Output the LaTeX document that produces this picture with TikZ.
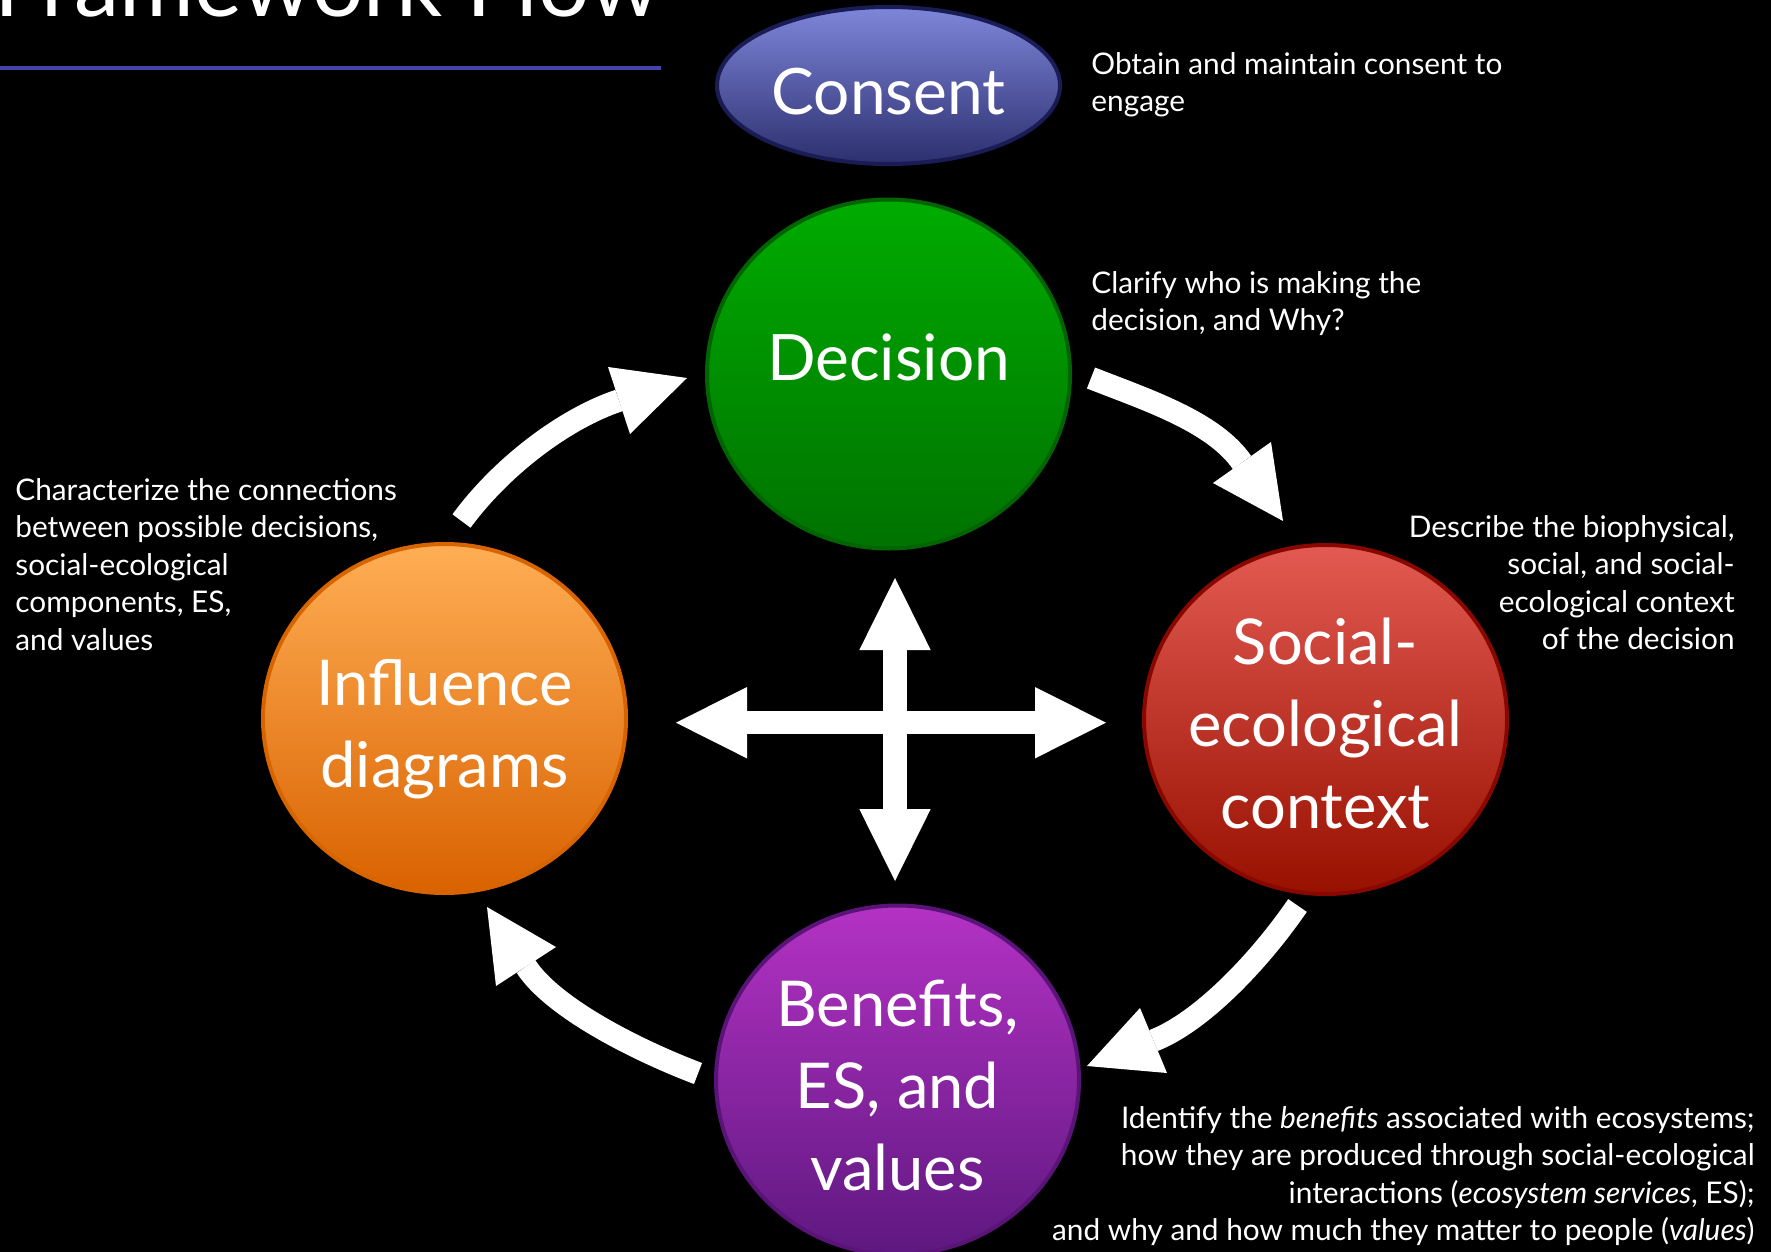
\documentclass[tikz,border=0pt]{standalone}
\usepackage{fontspec}
\setmainfont{Lato}
\usetikzlibrary{shapes.geometric}
\definecolor{titleline}{HTML}{4444AA}
\definecolor{conTop}{HTML}{7E86DA}
\definecolor{conBot}{HTML}{2C2F6E}
\definecolor{conLine}{HTML}{1A1D55}
\definecolor{decTop}{HTML}{00AC00}
\definecolor{decBot}{HTML}{007200}
\definecolor{decLine}{HTML}{006400}
\definecolor{socTop}{HTML}{E35A52}
\definecolor{socBot}{HTML}{981000}
\definecolor{socLine}{HTML}{880800}
\definecolor{benTop}{HTML}{B432C4}
\definecolor{benBot}{HTML}{5E1880}
\definecolor{benLine}{HTML}{5A1478}
\definecolor{infTop}{HTML}{FFAE55}
\definecolor{infBot}{HTML}{D96200}
\definecolor{infLine}{HTML}{D86400}
\begin{document}
\begin{tikzpicture}[x=0.5pt, y=-0.5pt,
  circ/.style={ellipse, minimum width=181.5pt, minimum height=174.5pt, inner sep=0pt, line width=2pt},
  lab/.style={text=white, font=\fontsize{31.6}{41}\selectfont, align=center, inner sep=0pt},
  desc/.style={text=white, font=\fontsize{14.9}{18.75}\selectfont, inner sep=0pt},
  shaft/.style={draw=white, line width=11.25pt},
  head/.style={fill=white}
]
\useasboundingbox (0,0) rectangle (1771,1252);
\fill[black] (0,0) rectangle (1771,1252);
\clip (0,0) rectangle (1771,1252);

% title
\node[anchor=base west, inner sep=0pt, text=white, font=\fontsize{45.4}{50}\selectfont] (title) at (-6,17) {Framework Flow};
\draw[titleline, line width=2pt] (0,68) -- (661,68);

% consent
\node[ellipse, minimum width=171.5pt, minimum height=78.5pt, inner sep=0pt, line width=2pt,
      top color=conTop, bottom color=conBot, draw=conLine] (con) at (888.5,85.5) {};
\node[lab, font=\fontsize{32}{41}\selectfont] (conT) at (888.5,91.5) {Consent};

% circles
\node[circ, top color=decTop, bottom color=decBot, draw=decLine] (dec) at (888.5,374) {};
\node[lab, font=\fontsize{32}{41}\selectfont] (decT) at (888.5,357) {Decision};
\node[circ, top color=socTop, bottom color=socBot, draw=socLine] (soc) at (1325.5,719.5) {};
\node[lab] (socT) at (1325.5,723.5) {Social-\\ecological\\context};
\node[circ, top color=benTop, bottom color=benBot, draw=benLine] (ben) at (897.5,1080) {};
\node[lab] (benT) at (897.5,1085) {Benefits,\\ES, and\\values};
\node[circ, top color=infTop, bottom color=infBot, draw=infLine] (inf) at (444.5,718.5) {};
\node[lab] (infT) at (444.5,729) {Influence\\diagrams};

% descriptions
\node[desc, anchor=north west, align=left] (conD) at (1091,52) {Obtain and maintain consent to\\engage};
\node[desc, anchor=north west, align=left] (decD) at (1091,271) {Clarify who is making the\\decision, and Why?};
\node[desc, anchor=north west, align=left] (infD) at (15,478) {Characterize the connections\\between possible decisions,\\social-ecological\\components, ES,\\and values};
\node[desc, anchor=north east, align=right] (socD) at (1735,515) {Describe the biophysical,\\social, and social-\\ecological context\\of the decision};
\node[desc, anchor=north east, align=right] (benD) at (1755,1106) {Identify the \textit{benefits} associated with ecosystems;\\how they are produced through social-ecological\\interactions (\textit{ecosystem services}, ES);\\and why and how much they matter to people (\textit{values})};

% curved arrows
\coordinate (a1s) at (1091,378);
\coordinate (a1m) at (1242,462.5);
\coordinate (a1a) at (1213,483);
\coordinate (a1t) at (1283,521);
\coordinate (a1b) at (1271,442);
\draw[shaft] (a1s) .. controls (1147,400) and (1213.5,421.5) .. (a1m);
\fill[head] (a1a) -- (a1t) -- (a1b) -- cycle;

\coordinate (a2s) at (1297.5,905.5);
\coordinate (a2m) at (1153.5,1040.5);
\coordinate (a2a) at (1140,1008);
\coordinate (a2t) at (1087,1066);
\coordinate (a2b) at (1167,1073);
\draw[shaft] (a2s) .. controls (1258,963) and (1200,1022.6) .. (a2m);
\fill[head] (a2a) -- (a2t) -- (a2b) -- cycle;

\coordinate (a3s) at (698,1073.5);
\coordinate (a3m) at (526,966.5);
\coordinate (a3a) at (556,947);
\coordinate (a3t) at (487,907);
\coordinate (a3b) at (496,986);
\draw[shaft] (a3s) .. controls (637.3,1050.4) and (553.4,1008.3) .. (a3m);
\fill[head] (a3a) -- (a3t) -- (a3b) -- cycle;

\coordinate (a4s) at (461.5,521);
\coordinate (a4m) at (619,400.5);
\coordinate (a4a) at (608,367);
\coordinate (a4t) at (687,378);
\coordinate (a4b) at (630,434);
\draw[shaft] (a4s) .. controls (503,464.6) and (566.8,417.8) .. (a4m);
\fill[head] (a4a) -- (a4t) -- (a4b) -- cycle;

% cross arrows
\coordinate (vu) at (895,650);
\coordinate (vd) at (895,809);
\coordinate (hl) at (747,722.7);
\coordinate (hr) at (1035,722.7);
\draw[draw=white, line width=12pt] (vu) -- (vd);
\draw[draw=white, line width=11.65pt] (hl) -- (hr);
\fill[head] (859.3,650) -- (895,578) -- (930.7,650) -- cycle;
\fill[head] (859.3,809) -- (895,881) -- (930.7,809) -- cycle;
\fill[head] (747,687) -- (676,722.7) -- (747,758.4) -- cycle;
\fill[head] (1035,687) -- (1106,722.7) -- (1035,758.4) -- cycle;
\end{tikzpicture}
\end{document}
